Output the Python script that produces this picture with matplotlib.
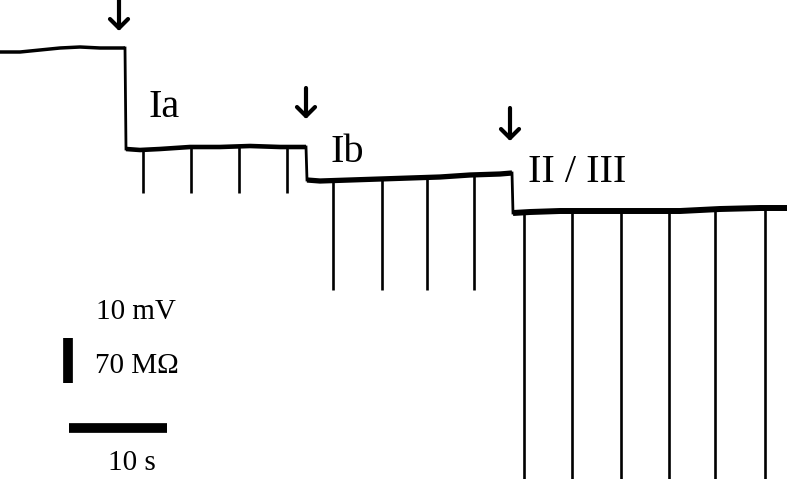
import matplotlib
matplotlib.use("Agg")
import matplotlib.pyplot as plt
import numpy as np

plt.rcParams['font.family'] = ['Liberation Serif', 'DejaVu Serif']

# Baseline trace segments (time in px-units, potential in px-units, y downward)
seg0_x = [0, 20, 40, 60, 80, 100, 125]
seg0_y = [52, 52, 50, 48, 47, 48, 48]
segIa_x = [126, 140, 160, 190, 220, 250, 280, 306]
segIa_y = [149, 150, 149, 147, 147, 146, 147, 147]
segIb_x = [307, 320, 350, 380, 410, 440, 470, 500, 512]
segIb_y = [180, 181, 180, 179, 178, 177, 175, 174, 173]
segII_x = [513, 530, 560, 600, 640, 680, 720, 760, 787]
segII_y = [213, 212, 211, 211, 211, 211, 209, 208, 208]

# Resistance test pulses: positions and deflection depths
pulsesIa_x = [143, 191, 239, 287]
pulsesIa_bottom = 193
pulsesIb_x = [333, 382, 427, 474]
pulsesIb_bottom = 290
pulsesII_x = [524, 572, 621, 669, 715, 765]
pulsesII_bottom = 479

# Arrows (application points)
arrows_x = [119, 306, 510]
arrows_top = [0, 88, 108]
arrows_tip = [31, 119, 141]

labels = ["Ia", "Ib", "II / III"]
labels_x = [148, 331, 528]
labels_y = [107, 152, 172]

fig = plt.figure(figsize=(7.87, 4.79), dpi=100)
ax = fig.add_axes([0, 0, 1, 1])
ax.set_xlim(0, 787)
ax.set_ylim(479, 0)
ax.axis('off')

k = 'black'
# baselines
ax.plot(seg0_x, seg0_y, color=k, lw=2.5, solid_capstyle='butt')
ax.plot(segIa_x, segIa_y, color=k, lw=3.3, solid_capstyle='butt')
ax.plot(segIb_x, segIb_y, color=k, lw=3.8, solid_capstyle='butt')
ax.plot(segII_x, segII_y, color=k, lw=4.3, solid_capstyle='butt')
# step drops
ax.plot([seg0_x[-1], segIa_x[0]], [seg0_y[-1], segIa_y[0]], color=k, lw=2.0)
ax.plot([segIa_x[-1], segIb_x[0]], [segIa_y[-1], segIb_y[0]], color=k, lw=2.0)
ax.plot([segIb_x[-1], segII_x[0]], [segIb_y[-1], segII_y[0]], color=k, lw=2.0)


def base_at(xs, ys, x):
    return float(np.interp(x, xs, ys))


for x in pulsesIa_x:
    ax.vlines(x, base_at(segIa_x, segIa_y, x), pulsesIa_bottom, color=k, lw=1.9)
for x in pulsesIb_x:
    ax.vlines(x, base_at(segIb_x, segIb_y, x), pulsesIb_bottom, color=k, lw=1.9)
for x in pulsesII_x:
    ax.vlines(x, base_at(segII_x, segII_y, x), pulsesII_bottom, color=k, lw=1.9)

for x, t0, t1 in zip(arrows_x, arrows_top, arrows_tip):
    ax.annotate('', xy=(x, t1), xytext=(x, t0),
                arrowprops=dict(arrowstyle='->, head_width=0.65, head_length=0.65',
                                color=k, lw=3.0, shrinkA=0, shrinkB=0))

for s, x, y in zip(labels, labels_x, labels_y):
    ax.text(x, y, s, fontsize=29, ha='left', va='center', color=k)

# scale bars
ax.plot([68, 68], [338, 383], color=k, lw=7, solid_capstyle='butt')
ax.plot([69, 167], [428, 428], color=k, lw=7, solid_capstyle='butt')
ax.text(136, 312, "10 mV", fontsize=21, ha='center', va='center', color=k)
ax.text(137, 366, "70 MΩ", fontsize=21, ha='center', va='center', color=k)
ax.text(132, 463, "10 s", fontsize=21, ha='center', va='center', color=k)

fig.savefig("out.png", dpi=100)
